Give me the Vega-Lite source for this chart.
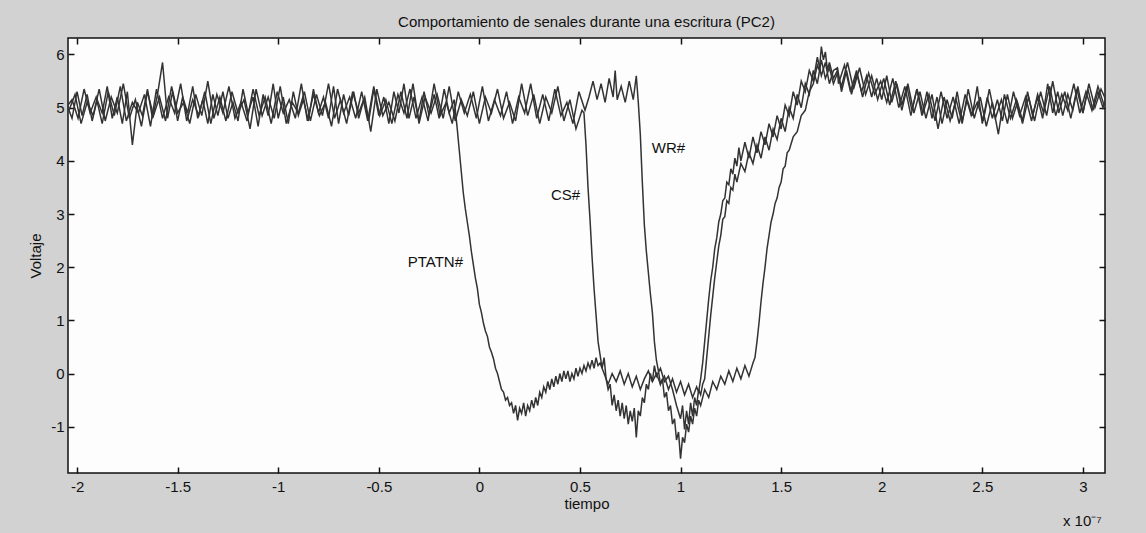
{
"$schema":"https://vega.github.io/schema/vega-lite/v6.json",
"width":1037,"height":435,
"autosize":{"type":"none"},
"padding":{"left":68,"top":38,"right":41,"bottom":60},
"background":"#d2d2d2",
"title":{"text":"Comportamiento de senales durante una escritura (PC2)","font":"Liberation Sans","fontSize":15,"fontWeight":"normal","color":"#111","offset":7,"anchor":"middle"},
"config":{"view":{"fill":"#fdfdfd","stroke":"#111","strokeWidth":1.5},
"axis":{"domain":false,"grid":false,"tickColor":"#111","tickWidth":1.5,"labelFont":"Liberation Sans","labelFontSize":15,"labelColor":"#111","titleFont":"Liberation Sans","titleFontSize":15,"titleFontWeight":"normal","titleColor":"#111"}},
"datasets":{
"lab":[{"t":-0.219,"v":2.09,"label":"PTATN#"},{"t":0.428,"v":3.36,"label":"CS#"},{"t":0.94,"v":4.25,"label":"WR#"},{"t":2.997,"v":-2.77,"label":"x 10⁻⁷"}],
"sig":[
{"s":"P","t":-2.05,"v":5.05},{"s":"P","t":-2.025,"v":4.8},{"s":"P","t":-2.0,"v":5.3},{"s":"P","t":-1.975,"v":4.85},{"s":"P","t":-1.95,"v":5.25},{"s":"P","t":-1.925,"v":4.75},{"s":"P","t":-1.9,"v":5.15},{"s":"P","t":-1.875,"v":4.9},{"s":"P","t":-1.85,"v":5.4},{"s":"P","t":-1.825,"v":4.8},{"s":"P","t":-1.8,"v":5.2},{"s":"P","t":-1.775,"v":4.7},{"s":"P","t":-1.75,"v":5.3},{"s":"P","t":-1.725,"v":4.3},{"s":"P","t":-1.7,"v":5.1},{"s":"P","t":-1.675,"v":4.85},{"s":"P","t":-1.65,"v":5.35},{"s":"P","t":-1.625,"v":4.8},{"s":"P","t":-1.6,"v":5.25},{"s":"P","t":-1.575,"v":5.85},{"s":"P","t":-1.55,"v":4.8},{"s":"P","t":-1.525,"v":5.3},{"s":"P","t":-1.5,"v":4.75},{"s":"P","t":-1.475,"v":5.2},{"s":"P","t":-1.45,"v":4.9},{"s":"P","t":-1.425,"v":5.4},{"s":"P","t":-1.4,"v":4.8},{"s":"P","t":-1.375,"v":5.15},{"s":"P","t":-1.35,"v":4.7},{"s":"P","t":-1.325,"v":5.25},{"s":"P","t":-1.3,"v":4.85},{"s":"P","t":-1.275,"v":5.3},{"s":"P","t":-1.25,"v":4.8},{"s":"P","t":-1.225,"v":5.1},{"s":"P","t":-1.2,"v":4.75},{"s":"P","t":-1.175,"v":5.35},{"s":"P","t":-1.15,"v":4.9},{"s":"P","t":-1.125,"v":5.2},{"s":"P","t":-1.1,"v":4.65},{"s":"P","t":-1.075,"v":5.25},{"s":"P","t":-1.05,"v":4.85},{"s":"P","t":-1.025,"v":5.45},{"s":"P","t":-1.0,"v":4.8},{"s":"P","t":-0.975,"v":5.2},{"s":"P","t":-0.95,"v":4.7},{"s":"P","t":-0.925,"v":5.3},{"s":"P","t":-0.9,"v":4.85},{"s":"P","t":-0.875,"v":5.15},{"s":"P","t":-0.85,"v":4.75},{"s":"P","t":-0.825,"v":5.35},{"s":"P","t":-0.8,"v":4.9},{"s":"P","t":-0.775,"v":5.2},{"s":"P","t":-0.75,"v":4.8},{"s":"P","t":-0.725,"v":5.4},{"s":"P","t":-0.7,"v":4.7},{"s":"P","t":-0.675,"v":5.25},{"s":"P","t":-0.65,"v":4.85},{"s":"P","t":-0.625,"v":5.3},{"s":"P","t":-0.6,"v":4.8},{"s":"P","t":-0.575,"v":5.15},{"s":"P","t":-0.55,"v":4.75},{"s":"P","t":-0.525,"v":5.35},{"s":"P","t":-0.5,"v":4.85},{"s":"P","t":-0.475,"v":5.2},{"s":"P","t":-0.45,"v":4.7},{"s":"P","t":-0.425,"v":5.3},{"s":"P","t":-0.4,"v":4.9},{"s":"P","t":-0.375,"v":5.45},{"s":"P","t":-0.35,"v":4.8},{"s":"P","t":-0.325,"v":5.2},{"s":"P","t":-0.3,"v":4.75},{"s":"P","t":-0.275,"v":5.3},{"s":"P","t":-0.25,"v":4.85},{"s":"P","t":-0.225,"v":5.25},{"s":"P","t":-0.2,"v":4.8},{"s":"P","t":-0.175,"v":5.35},{"s":"P","t":-0.15,"v":4.9},{"s":"P","t":-0.125,"v":5.15},
{"s":"P","t":-0.11,"v":4.6},{"s":"P","t":-0.1,"v":4.2},{"s":"P","t":-0.09,"v":3.8},{"s":"P","t":-0.08,"v":3.4},{"s":"P","t":-0.07,"v":3.1},{"s":"P","t":-0.06,"v":2.85},{"s":"P","t":-0.05,"v":2.6},{"s":"P","t":-0.04,"v":2.3},{"s":"P","t":-0.03,"v":2.05},{"s":"P","t":-0.02,"v":1.8},{"s":"P","t":-0.01,"v":1.6},{"s":"P","t":0.0,"v":1.3},{"s":"P","t":0.01,"v":1.15},{"s":"P","t":0.02,"v":0.95},{"s":"P","t":0.03,"v":0.8},{"s":"P","t":0.04,"v":0.7},{"s":"P","t":0.05,"v":0.5},{"s":"P","t":0.06,"v":0.4},{"s":"P","t":0.07,"v":0.28},{"s":"P","t":0.08,"v":0.1},{"s":"P","t":0.09,"v":0.0},{"s":"P","t":0.1,"v":-0.15},{"s":"P","t":0.11,"v":-0.3},{"s":"P","t":0.12,"v":-0.35},{"s":"P","t":0.13,"v":-0.5},{"s":"P","t":0.14,"v":-0.45},{"s":"P","t":0.15,"v":-0.6},{"s":"P","t":0.16,"v":-0.55},{"s":"P","t":0.17,"v":-0.75},{"s":"P","t":0.18,"v":-0.6},{"s":"P","t":0.19,"v":-0.88},{"s":"P","t":0.2,"v":-0.65},{"s":"P","t":0.21,"v":-0.75},{"s":"P","t":0.22,"v":-0.55},{"s":"P","t":0.23,"v":-0.8},{"s":"P","t":0.24,"v":-0.6},{"s":"P","t":0.25,"v":-0.7},{"s":"P","t":0.26,"v":-0.5},{"s":"P","t":0.27,"v":-0.65},{"s":"P","t":0.28,"v":-0.45},{"s":"P","t":0.29,"v":-0.6},{"s":"P","t":0.3,"v":-0.35},{"s":"P","t":0.31,"v":-0.45},{"s":"P","t":0.32,"v":-0.25},{"s":"P","t":0.33,"v":-0.35},{"s":"P","t":0.34,"v":-0.15},{"s":"P","t":0.35,"v":-0.3},{"s":"P","t":0.36,"v":-0.1},{"s":"P","t":0.37,"v":-0.25},{"s":"P","t":0.38,"v":-0.05},{"s":"P","t":0.39,"v":-0.2},{"s":"P","t":0.4,"v":0.0},{"s":"P","t":0.41,"v":-0.15},{"s":"P","t":0.42,"v":0.05},{"s":"P","t":0.43,"v":-0.1},{"s":"P","t":0.44,"v":0.05},{"s":"P","t":0.45,"v":-0.15},{"s":"P","t":0.46,"v":0.0},{"s":"P","t":0.47,"v":-0.1},{"s":"P","t":0.48,"v":0.1},{"s":"P","t":0.49,"v":-0.05},{"s":"P","t":0.5,"v":0.1},{"s":"P","t":0.51,"v":0.0},{"s":"P","t":0.52,"v":0.15},{"s":"P","t":0.53,"v":0.05},{"s":"P","t":0.54,"v":0.2},{"s":"P","t":0.55,"v":0.1},{"s":"P","t":0.56,"v":0.25},{"s":"P","t":0.57,"v":0.1},{"s":"P","t":0.58,"v":0.3},{"s":"P","t":0.59,"v":0.15},{"s":"P","t":0.6,"v":0.2},{"s":"P","t":0.62,"v":0.0},{"s":"P","t":0.64,"v":-0.2},{"s":"P","t":0.66,"v":0.0},{"s":"P","t":0.68,"v":-0.15},{"s":"P","t":0.7,"v":0.05},{"s":"P","t":0.72,"v":-0.2},{"s":"P","t":0.74,"v":0.0},{"s":"P","t":0.76,"v":-0.25},{"s":"P","t":0.78,"v":-0.05},{"s":"P","t":0.8,"v":-0.3},{"s":"P","t":0.82,"v":-0.1},{"s":"P","t":0.84,"v":0.05},{"s":"P","t":0.86,"v":-0.15},{"s":"P","t":0.88,"v":0.0},{"s":"P","t":0.9,"v":-0.2},{"s":"P","t":0.92,"v":-0.05},{"s":"P","t":0.94,"v":-0.3},{"s":"P","t":0.96,"v":-0.1},{"s":"P","t":0.98,"v":-0.35},{"s":"P","t":1.0,"v":-0.15},{"s":"P","t":1.02,"v":-0.4},{"s":"P","t":1.04,"v":-0.2},{"s":"P","t":1.06,"v":-0.45},{"s":"P","t":1.08,"v":-0.25},{"s":"P","t":1.09,"v":-0.35},{"s":"P","t":1.1,"v":-0.1},
{"s":"P","t":1.11,"v":0.2},{"s":"P","t":1.12,"v":0.6},{"s":"P","t":1.13,"v":1.0},{"s":"P","t":1.14,"v":1.4},{"s":"P","t":1.15,"v":1.75},{"s":"P","t":1.16,"v":2.0},{"s":"P","t":1.17,"v":2.35},{"s":"P","t":1.18,"v":2.55},{"s":"P","t":1.19,"v":2.85},{"s":"P","t":1.2,"v":3.0},{"s":"P","t":1.21,"v":3.25},{"s":"P","t":1.22,"v":3.3},{"s":"P","t":1.23,"v":3.6},{"s":"P","t":1.24,"v":3.55},{"s":"P","t":1.25,"v":3.85},{"s":"P","t":1.26,"v":3.75},{"s":"P","t":1.27,"v":4.05},{"s":"P","t":1.28,"v":3.9},{"s":"P","t":1.29,"v":4.25},{"s":"P","t":1.3,"v":4.0},{"s":"P","t":1.32,"v":4.35},{"s":"P","t":1.34,"v":4.05},{"s":"P","t":1.36,"v":4.45},{"s":"P","t":1.38,"v":4.15},{"s":"P","t":1.4,"v":4.55},{"s":"P","t":1.42,"v":4.3},{"s":"P","t":1.44,"v":4.7},{"s":"P","t":1.46,"v":4.45},{"s":"P","t":1.48,"v":4.85},{"s":"P","t":1.5,"v":4.6},{"s":"P","t":1.52,"v":5.05},{"s":"P","t":1.54,"v":4.85},{"s":"P","t":1.56,"v":5.3},{"s":"P","t":1.58,"v":5.05},{"s":"P","t":1.6,"v":5.5},{"s":"P","t":1.62,"v":5.3},{"s":"P","t":1.64,"v":5.7},{"s":"P","t":1.66,"v":5.5},{"s":"P","t":1.68,"v":5.95},{"s":"P","t":1.7,"v":5.6},{"s":"P","t":1.72,"v":5.85},{"s":"P","t":1.74,"v":5.45},{"s":"P","t":1.76,"v":5.7},
{"s":"P","t":1.78,"v":5.75},{"s":"P","t":1.8,"v":5.3},{"s":"P","t":1.825,"v":5.7},{"s":"P","t":1.85,"v":5.25},{"s":"P","t":1.875,"v":5.65},{"s":"P","t":1.9,"v":5.3},{"s":"P","t":1.925,"v":5.6},{"s":"P","t":1.95,"v":5.2},{"s":"P","t":1.975,"v":5.55},{"s":"P","t":2.0,"v":5.15},{"s":"P","t":2.025,"v":5.6},{"s":"P","t":2.05,"v":5.1},{"s":"P","t":2.075,"v":5.45},{"s":"P","t":2.1,"v":5.05},{"s":"P","t":2.125,"v":5.4},{"s":"P","t":2.15,"v":4.95},{"s":"P","t":2.175,"v":5.35},{"s":"P","t":2.2,"v":4.85},{"s":"P","t":2.225,"v":5.3},{"s":"P","t":2.25,"v":4.8},{"s":"P","t":2.275,"v":5.2},{"s":"P","t":2.3,"v":4.7},{"s":"P","t":2.325,"v":5.15},{"s":"P","t":2.35,"v":4.8},{"s":"P","t":2.375,"v":5.3},{"s":"P","t":2.4,"v":4.75},{"s":"P","t":2.425,"v":5.15},{"s":"P","t":2.45,"v":4.85},{"s":"P","t":2.475,"v":5.4},{"s":"P","t":2.5,"v":4.7},{"s":"P","t":2.525,"v":5.2},{"s":"P","t":2.55,"v":4.8},{"s":"P","t":2.575,"v":5.15},{"s":"P","t":2.6,"v":4.75},{"s":"P","t":2.625,"v":5.25},{"s":"P","t":2.65,"v":4.8},{"s":"P","t":2.675,"v":5.1},{"s":"P","t":2.7,"v":4.75},{"s":"P","t":2.725,"v":5.3},{"s":"P","t":2.75,"v":4.85},{"s":"P","t":2.775,"v":5.2},{"s":"P","t":2.8,"v":4.8},{"s":"P","t":2.825,"v":5.45},{"s":"P","t":2.85,"v":4.9},{"s":"P","t":2.875,"v":5.3},{"s":"P","t":2.9,"v":4.85},{"s":"P","t":2.925,"v":5.25},{"s":"P","t":2.95,"v":4.95},{"s":"P","t":2.975,"v":5.4},{"s":"P","t":3.0,"v":4.9},{"s":"P","t":3.025,"v":5.35},{"s":"P","t":3.05,"v":4.95},{"s":"P","t":3.075,"v":5.3},{"s":"P","t":3.1,"v":5.0},{"s":"P","t":3.125,"v":5.3},
{"s":"C","t":-2.04,"v":4.95},{"s":"C","t":-2.01,"v":5.25},{"s":"C","t":-1.98,"v":4.7},{"s":"C","t":-1.95,"v":5.1},{"s":"C","t":-1.92,"v":4.85},{"s":"C","t":-1.89,"v":5.35},{"s":"C","t":-1.86,"v":4.75},{"s":"C","t":-1.83,"v":5.2},{"s":"C","t":-1.8,"v":4.9},{"s":"C","t":-1.77,"v":5.45},{"s":"C","t":-1.74,"v":4.8},{"s":"C","t":-1.71,"v":5.15},{"s":"C","t":-1.68,"v":4.65},{"s":"C","t":-1.65,"v":5.3},{"s":"C","t":-1.62,"v":4.85},{"s":"C","t":-1.59,"v":5.2},{"s":"C","t":-1.56,"v":4.75},{"s":"C","t":-1.53,"v":5.4},{"s":"C","t":-1.5,"v":4.9},{"s":"C","t":-1.47,"v":5.1},{"s":"C","t":-1.44,"v":4.7},{"s":"C","t":-1.41,"v":5.25},{"s":"C","t":-1.38,"v":4.85},{"s":"C","t":-1.35,"v":5.5},{"s":"C","t":-1.32,"v":4.8},{"s":"C","t":-1.29,"v":5.2},{"s":"C","t":-1.26,"v":4.75},{"s":"C","t":-1.23,"v":5.3},{"s":"C","t":-1.2,"v":4.9},{"s":"C","t":-1.17,"v":5.15},{"s":"C","t":-1.14,"v":4.6},{"s":"C","t":-1.11,"v":5.35},{"s":"C","t":-1.08,"v":4.85},{"s":"C","t":-1.05,"v":5.2},{"s":"C","t":-1.02,"v":4.8},{"s":"C","t":-0.99,"v":5.4},{"s":"C","t":-0.96,"v":4.7},{"s":"C","t":-0.93,"v":5.1},{"s":"C","t":-0.9,"v":4.9},{"s":"C","t":-0.87,"v":5.3},{"s":"C","t":-0.84,"v":4.75},{"s":"C","t":-0.81,"v":5.25},{"s":"C","t":-0.78,"v":4.85},{"s":"C","t":-0.75,"v":5.45},{"s":"C","t":-0.72,"v":4.8},{"s":"C","t":-0.69,"v":5.15},{"s":"C","t":-0.66,"v":4.7},{"s":"C","t":-0.63,"v":5.3},{"s":"C","t":-0.6,"v":4.9},{"s":"C","t":-0.57,"v":5.2},{"s":"C","t":-0.54,"v":4.55},{"s":"C","t":-0.51,"v":5.35},{"s":"C","t":-0.48,"v":4.85},{"s":"C","t":-0.45,"v":5.1},{"s":"C","t":-0.42,"v":4.75},{"s":"C","t":-0.39,"v":5.3},{"s":"C","t":-0.36,"v":4.8},{"s":"C","t":-0.33,"v":5.45},{"s":"C","t":-0.3,"v":4.7},{"s":"C","t":-0.27,"v":5.2},{"s":"C","t":-0.24,"v":4.9},{"s":"C","t":-0.21,"v":5.25},{"s":"C","t":-0.18,"v":4.8},{"s":"C","t":-0.15,"v":5.4},{"s":"C","t":-0.12,"v":4.75},{"s":"C","t":-0.09,"v":5.15},{"s":"C","t":-0.06,"v":4.85},{"s":"C","t":-0.03,"v":5.3},{"s":"C","t":0.0,"v":4.7},{"s":"C","t":0.03,"v":5.2},{"s":"C","t":0.06,"v":4.9},{"s":"C","t":0.09,"v":5.35},{"s":"C","t":0.12,"v":4.8},{"s":"C","t":0.15,"v":5.1},{"s":"C","t":0.18,"v":4.75},{"s":"C","t":0.21,"v":5.45},{"s":"C","t":0.24,"v":4.85},{"s":"C","t":0.27,"v":5.25},{"s":"C","t":0.3,"v":4.7},{"s":"C","t":0.33,"v":5.2},{"s":"C","t":0.36,"v":4.9},{"s":"C","t":0.39,"v":5.4},{"s":"C","t":0.42,"v":4.75},{"s":"C","t":0.45,"v":5.15},{"s":"C","t":0.48,"v":4.6},{"s":"C","t":0.51,"v":4.95},
{"s":"C","t":0.52,"v":4.9},{"s":"C","t":0.53,"v":4.3},{"s":"C","t":0.54,"v":3.5},{"s":"C","t":0.55,"v":2.9},{"s":"C","t":0.56,"v":2.2},{"s":"C","t":0.57,"v":1.6},{"s":"C","t":0.58,"v":1.1},{"s":"C","t":0.59,"v":0.6},{"s":"C","t":0.6,"v":0.35},{"s":"C","t":0.61,"v":0.1},{"s":"C","t":0.62,"v":0.3},{"s":"C","t":0.63,"v":-0.1},{"s":"C","t":0.64,"v":-0.3},{"s":"C","t":0.65,"v":-0.2},{"s":"C","t":0.66,"v":-0.6},{"s":"C","t":0.67,"v":-0.4},{"s":"C","t":0.68,"v":-0.7},{"s":"C","t":0.69,"v":-0.5},{"s":"C","t":0.7,"v":-0.8},{"s":"C","t":0.71,"v":-0.55},{"s":"C","t":0.72,"v":-0.85},{"s":"C","t":0.73,"v":-0.6},{"s":"C","t":0.74,"v":-0.95},{"s":"C","t":0.75,"v":-0.7},{"s":"C","t":0.76,"v":-0.9},{"s":"C","t":0.77,"v":-0.65},{"s":"C","t":0.78,"v":-1.2},{"s":"C","t":0.79,"v":-0.7},{"s":"C","t":0.8,"v":-0.8},{"s":"C","t":0.81,"v":-0.45},{"s":"C","t":0.82,"v":-0.55},{"s":"C","t":0.83,"v":-0.2},{"s":"C","t":0.84,"v":-0.3},{"s":"C","t":0.85,"v":0.0},{"s":"C","t":0.86,"v":-0.15},{"s":"C","t":0.87,"v":0.15},{"s":"C","t":0.88,"v":-0.05},{"s":"C","t":0.9,"v":0.1},{"s":"C","t":0.92,"v":-0.15},{"s":"C","t":0.94,"v":-0.05},{"s":"C","t":0.96,"v":-0.3},{"s":"C","t":0.98,"v":-0.6},{"s":"C","t":1.0,"v":-0.85},{"s":"C","t":1.01,"v":-0.6},{"s":"C","t":1.02,"v":-1.05},{"s":"C","t":1.03,"v":-0.7},{"s":"C","t":1.04,"v":-0.95},{"s":"C","t":1.05,"v":-0.55},{"s":"C","t":1.06,"v":-0.8},{"s":"C","t":1.07,"v":-0.45},{"s":"C","t":1.08,"v":-0.6},{"s":"C","t":1.09,"v":-0.3},{"s":"C","t":1.1,"v":-0.4},{"s":"C","t":1.11,"v":-0.2},{"s":"C","t":1.12,"v":-0.1},{"s":"C","t":1.13,"v":0.3},{"s":"C","t":1.14,"v":0.7},{"s":"C","t":1.15,"v":1.1},{"s":"C","t":1.16,"v":1.45},{"s":"C","t":1.17,"v":1.8},{"s":"C","t":1.18,"v":2.1},{"s":"C","t":1.19,"v":2.4},{"s":"C","t":1.2,"v":2.6},{"s":"C","t":1.21,"v":2.9},{"s":"C","t":1.22,"v":2.95},{"s":"C","t":1.23,"v":3.25},{"s":"C","t":1.24,"v":3.2},{"s":"C","t":1.25,"v":3.5},{"s":"C","t":1.26,"v":3.45},{"s":"C","t":1.27,"v":3.75},{"s":"C","t":1.28,"v":3.6},{"s":"C","t":1.3,"v":3.95},{"s":"C","t":1.32,"v":3.8},{"s":"C","t":1.34,"v":4.15},{"s":"C","t":1.36,"v":3.95},{"s":"C","t":1.38,"v":4.3},{"s":"C","t":1.4,"v":4.05},{"s":"C","t":1.42,"v":4.45},{"s":"C","t":1.44,"v":4.2},{"s":"C","t":1.46,"v":4.6},{"s":"C","t":1.48,"v":4.4},{"s":"C","t":1.5,"v":4.8},{"s":"C","t":1.52,"v":4.55},{"s":"C","t":1.54,"v":5.0},{"s":"C","t":1.56,"v":4.8},{"s":"C","t":1.58,"v":5.25},{"s":"C","t":1.6,"v":5.0},{"s":"C","t":1.62,"v":5.45},{"s":"C","t":1.64,"v":5.25},{"s":"C","t":1.66,"v":5.7},{"s":"C","t":1.68,"v":5.45},{"s":"C","t":1.7,"v":5.9},{"s":"C","t":1.72,"v":5.55},{"s":"C","t":1.74,"v":5.75},{"s":"C","t":1.76,"v":5.45},{"s":"C","t":1.78,"v":5.65},
{"s":"C","t":1.8,"v":5.4},{"s":"C","t":1.83,"v":5.85},{"s":"C","t":1.86,"v":5.35},{"s":"C","t":1.89,"v":5.75},{"s":"C","t":1.92,"v":5.25},{"s":"C","t":1.95,"v":5.6},{"s":"C","t":1.98,"v":5.15},{"s":"C","t":2.01,"v":5.55},{"s":"C","t":2.04,"v":5.05},{"s":"C","t":2.07,"v":5.5},{"s":"C","t":2.1,"v":4.95},{"s":"C","t":2.13,"v":5.45},{"s":"C","t":2.16,"v":4.9},{"s":"C","t":2.19,"v":5.3},{"s":"C","t":2.22,"v":4.8},{"s":"C","t":2.25,"v":5.25},{"s":"C","t":2.28,"v":4.6},{"s":"C","t":2.31,"v":5.2},{"s":"C","t":2.34,"v":4.75},{"s":"C","t":2.37,"v":5.15},{"s":"C","t":2.4,"v":4.7},{"s":"C","t":2.43,"v":5.35},{"s":"C","t":2.46,"v":4.8},{"s":"C","t":2.49,"v":5.2},{"s":"C","t":2.52,"v":4.65},{"s":"C","t":2.55,"v":5.1},{"s":"C","t":2.58,"v":4.5},{"s":"C","t":2.61,"v":5.25},{"s":"C","t":2.64,"v":4.8},{"s":"C","t":2.67,"v":5.15},{"s":"C","t":2.7,"v":4.7},{"s":"C","t":2.73,"v":5.2},{"s":"C","t":2.76,"v":4.75},{"s":"C","t":2.79,"v":5.3},{"s":"C","t":2.82,"v":4.85},{"s":"C","t":2.85,"v":5.5},{"s":"C","t":2.88,"v":4.9},{"s":"C","t":2.91,"v":5.3},{"s":"C","t":2.94,"v":4.8},{"s":"C","t":2.97,"v":5.35},{"s":"C","t":3.0,"v":4.9},{"s":"C","t":3.03,"v":5.45},{"s":"C","t":3.06,"v":5.0},{"s":"C","t":3.09,"v":5.35},{"s":"C","t":3.12,"v":5.1},
{"s":"W","t":-2.055,"v":5.0},{"s":"W","t":-2.025,"v":5.15},{"s":"W","t":-1.995,"v":4.8},{"s":"W","t":-1.965,"v":5.35},{"s":"W","t":-1.935,"v":4.9},{"s":"W","t":-1.905,"v":5.2},{"s":"W","t":-1.875,"v":4.7},{"s":"W","t":-1.845,"v":5.3},{"s":"W","t":-1.815,"v":4.85},{"s":"W","t":-1.785,"v":5.4},{"s":"W","t":-1.755,"v":4.75},{"s":"W","t":-1.725,"v":5.1},{"s":"W","t":-1.695,"v":4.9},{"s":"W","t":-1.665,"v":5.25},{"s":"W","t":-1.635,"v":4.65},{"s":"W","t":-1.605,"v":5.35},{"s":"W","t":-1.575,"v":4.8},{"s":"W","t":-1.545,"v":5.2},{"s":"W","t":-1.515,"v":4.9},{"s":"W","t":-1.485,"v":5.45},{"s":"W","t":-1.455,"v":4.75},{"s":"W","t":-1.425,"v":5.15},{"s":"W","t":-1.395,"v":4.85},{"s":"W","t":-1.365,"v":5.3},{"s":"W","t":-1.335,"v":4.7},{"s":"W","t":-1.305,"v":5.25},{"s":"W","t":-1.275,"v":4.9},{"s":"W","t":-1.245,"v":5.4},{"s":"W","t":-1.215,"v":4.8},{"s":"W","t":-1.185,"v":5.1},{"s":"W","t":-1.155,"v":4.75},{"s":"W","t":-1.125,"v":5.35},{"s":"W","t":-1.095,"v":4.85},{"s":"W","t":-1.065,"v":5.2},{"s":"W","t":-1.035,"v":4.7},{"s":"W","t":-1.005,"v":5.3},{"s":"W","t":-0.975,"v":4.9},{"s":"W","t":-0.945,"v":5.15},{"s":"W","t":-0.915,"v":4.8},{"s":"W","t":-0.885,"v":5.45},{"s":"W","t":-0.855,"v":4.75},{"s":"W","t":-0.825,"v":5.25},{"s":"W","t":-0.795,"v":4.85},{"s":"W","t":-0.765,"v":5.1},{"s":"W","t":-0.735,"v":4.65},{"s":"W","t":-0.705,"v":5.35},{"s":"W","t":-0.675,"v":4.9},{"s":"W","t":-0.645,"v":5.2},{"s":"W","t":-0.615,"v":4.8},{"s":"W","t":-0.585,"v":5.3},{"s":"W","t":-0.555,"v":4.75},{"s":"W","t":-0.525,"v":5.4},{"s":"W","t":-0.495,"v":4.85},{"s":"W","t":-0.465,"v":5.15},{"s":"W","t":-0.435,"v":4.7},{"s":"W","t":-0.405,"v":5.25},{"s":"W","t":-0.375,"v":4.9},{"s":"W","t":-0.345,"v":5.35},{"s":"W","t":-0.315,"v":4.8},{"s":"W","t":-0.285,"v":5.2},{"s":"W","t":-0.255,"v":4.75},{"s":"W","t":-0.225,"v":5.45},{"s":"W","t":-0.195,"v":4.85},{"s":"W","t":-0.165,"v":5.1},{"s":"W","t":-0.135,"v":4.7},{"s":"W","t":-0.105,"v":5.3},{"s":"W","t":-0.075,"v":4.9},{"s":"W","t":-0.045,"v":5.25},{"s":"W","t":-0.015,"v":4.8},{"s":"W","t":0.015,"v":5.4},{"s":"W","t":0.045,"v":4.75},{"s":"W","t":0.075,"v":5.15},{"s":"W","t":0.105,"v":4.85},{"s":"W","t":0.135,"v":5.3},{"s":"W","t":0.165,"v":4.7},{"s":"W","t":0.195,"v":5.2},{"s":"W","t":0.225,"v":4.9},{"s":"W","t":0.255,"v":5.45},{"s":"W","t":0.285,"v":4.8},{"s":"W","t":0.315,"v":5.25},{"s":"W","t":0.345,"v":4.75},{"s":"W","t":0.375,"v":5.35},{"s":"W","t":0.405,"v":4.85},{"s":"W","t":0.435,"v":5.1},{"s":"W","t":0.465,"v":4.7},{"s":"W","t":0.495,"v":5.3},{"s":"W","t":0.525,"v":4.95},
{"s":"W","t":0.545,"v":5.2},{"s":"W","t":0.565,"v":5.5},{"s":"W","t":0.585,"v":5.15},{"s":"W","t":0.605,"v":5.45},{"s":"W","t":0.625,"v":5.1},{"s":"W","t":0.645,"v":5.55},{"s":"W","t":0.665,"v":5.2},{"s":"W","t":0.675,"v":5.7},{"s":"W","t":0.685,"v":5.15},{"s":"W","t":0.705,"v":5.4},{"s":"W","t":0.725,"v":5.1},{"s":"W","t":0.745,"v":5.5},{"s":"W","t":0.765,"v":5.15},{"s":"W","t":0.78,"v":5.6},
{"s":"W","t":0.79,"v":5.1},{"s":"W","t":0.8,"v":4.5},{"s":"W","t":0.81,"v":3.6},{"s":"W","t":0.82,"v":2.8},{"s":"W","t":0.83,"v":2.3},{"s":"W","t":0.84,"v":1.9},{"s":"W","t":0.85,"v":1.5},{"s":"W","t":0.86,"v":1.15},{"s":"W","t":0.87,"v":0.6},{"s":"W","t":0.88,"v":0.25},{"s":"W","t":0.89,"v":0.05},{"s":"W","t":0.9,"v":-0.2},{"s":"W","t":0.91,"v":-0.1},{"s":"W","t":0.92,"v":-0.45},{"s":"W","t":0.93,"v":-0.35},{"s":"W","t":0.94,"v":-0.7},{"s":"W","t":0.95,"v":-0.6},{"s":"W","t":0.96,"v":-0.95},{"s":"W","t":0.97,"v":-0.85},{"s":"W","t":0.98,"v":-1.25},{"s":"W","t":0.99,"v":-1.1},{"s":"W","t":1.0,"v":-1.6},{"s":"W","t":1.01,"v":-1.2},{"s":"W","t":1.02,"v":-1.3},{"s":"W","t":1.03,"v":-0.95},{"s":"W","t":1.04,"v":-1.1},{"s":"W","t":1.05,"v":-0.8},{"s":"W","t":1.06,"v":-0.95},{"s":"W","t":1.07,"v":-0.65},{"s":"W","t":1.08,"v":-0.8},{"s":"W","t":1.09,"v":-0.5},{"s":"W","t":1.1,"v":-0.6},{"s":"W","t":1.12,"v":-0.3},{"s":"W","t":1.14,"v":-0.45},{"s":"W","t":1.16,"v":-0.15},{"s":"W","t":1.18,"v":-0.3},{"s":"W","t":1.2,"v":-0.05},{"s":"W","t":1.22,"v":-0.2},{"s":"W","t":1.24,"v":0.05},{"s":"W","t":1.26,"v":-0.15},{"s":"W","t":1.28,"v":0.1},{"s":"W","t":1.3,"v":-0.1},{"s":"W","t":1.32,"v":0.15},{"s":"W","t":1.34,"v":-0.05},{"s":"W","t":1.36,"v":0.2},{"s":"W","t":1.37,"v":0.3},{"s":"W","t":1.38,"v":0.6},{"s":"W","t":1.39,"v":0.95},{"s":"W","t":1.4,"v":1.35},{"s":"W","t":1.41,"v":1.7},{"s":"W","t":1.42,"v":2.0},{"s":"W","t":1.43,"v":2.35},{"s":"W","t":1.44,"v":2.6},{"s":"W","t":1.45,"v":2.85},{"s":"W","t":1.46,"v":3.0},{"s":"W","t":1.47,"v":3.2},{"s":"W","t":1.48,"v":3.3},{"s":"W","t":1.49,"v":3.5},{"s":"W","t":1.5,"v":3.6},{"s":"W","t":1.51,"v":3.85},{"s":"W","t":1.52,"v":3.9},{"s":"W","t":1.53,"v":4.15},{"s":"W","t":1.54,"v":4.2},{"s":"W","t":1.56,"v":4.45},{"s":"W","t":1.58,"v":4.55},{"s":"W","t":1.6,"v":4.85},{"s":"W","t":1.62,"v":4.95},{"s":"W","t":1.64,"v":5.3},{"s":"W","t":1.66,"v":5.45},{"s":"W","t":1.68,"v":5.8},{"s":"W","t":1.69,"v":5.7},{"s":"W","t":1.7,"v":6.15},{"s":"W","t":1.71,"v":5.9},{"s":"W","t":1.72,"v":6.05},{"s":"W","t":1.73,"v":5.7},{"s":"W","t":1.74,"v":5.85},{"s":"W","t":1.76,"v":5.55},{"s":"W","t":1.78,"v":5.7},
{"s":"W","t":1.785,"v":5.45},{"s":"W","t":1.815,"v":5.8},{"s":"W","t":1.845,"v":5.3},{"s":"W","t":1.875,"v":5.7},{"s":"W","t":1.905,"v":5.2},{"s":"W","t":1.935,"v":5.65},{"s":"W","t":1.965,"v":5.25},{"s":"W","t":1.995,"v":5.5},{"s":"W","t":2.025,"v":5.1},{"s":"W","t":2.055,"v":5.55},{"s":"W","t":2.085,"v":5.0},{"s":"W","t":2.115,"v":5.4},{"s":"W","t":2.145,"v":4.85},{"s":"W","t":2.175,"v":5.35},{"s":"W","t":2.205,"v":4.9},{"s":"W","t":2.235,"v":5.25},{"s":"W","t":2.265,"v":4.75},{"s":"W","t":2.295,"v":5.3},{"s":"W","t":2.325,"v":4.8},{"s":"W","t":2.355,"v":5.2},{"s":"W","t":2.385,"v":4.7},{"s":"W","t":2.415,"v":5.25},{"s":"W","t":2.445,"v":4.85},{"s":"W","t":2.475,"v":5.1},{"s":"W","t":2.505,"v":4.75},{"s":"W","t":2.535,"v":5.35},{"s":"W","t":2.565,"v":4.8},{"s":"W","t":2.595,"v":5.15},{"s":"W","t":2.625,"v":4.7},{"s":"W","t":2.655,"v":5.3},{"s":"W","t":2.685,"v":4.85},{"s":"W","t":2.715,"v":5.2},{"s":"W","t":2.745,"v":4.75},{"s":"W","t":2.775,"v":5.25},{"s":"W","t":2.805,"v":4.9},{"s":"W","t":2.835,"v":5.4},{"s":"W","t":2.865,"v":4.85},{"s":"W","t":2.895,"v":5.25},{"s":"W","t":2.925,"v":4.95},{"s":"W","t":2.955,"v":5.45},{"s":"W","t":2.985,"v":4.9},{"s":"W","t":3.015,"v":5.3},{"s":"W","t":3.045,"v":4.95},{"s":"W","t":3.075,"v":5.4},{"s":"W","t":3.105,"v":5.05},{"s":"W","t":3.135,"v":5.2}
]},
"layer":[
{"mark":{"type":"rule","stroke":"#e2e2e2","strokeWidth":1.5,"strokeDash":[30,14]},"encoding":{"y":{"datum":3.71,"type":"quantitative","scale":{"domain":[-1.87,6.31],"nice":false,"zero":false},"axis":null}}},
{"data":{"name":"sig"},"mark":{"type":"line","stroke":"#333333","strokeWidth":1.5,"clip":true},
"encoding":{
"x":{"field":"t","type":"quantitative","scale":{"domain":[-2.045,3.11],"nice":false,"zero":false},
"axis":{"orient":"bottom","title":"tiempo","values":[-2,-1.5,-1,-0.5,0,0.5,1,1.5,2,2.5,3],"labelExpr":"'' + datum.value","tickSize":-6,"labelPadding":12,"titlePadding":2,"labelFlush":false,"labelOverlap":false}},
"y":{"field":"v","type":"quantitative","scale":{"domain":[-1.87,6.31],"nice":false,"zero":false},
"axis":{"orient":"left","title":"Voltaje","values":[-1,0,1,2,3,4,5,6],"labelExpr":"'' + datum.value","tickSize":-6,"labelPadding":10,"titlePadding":7,"labelFlush":false,"labelOverlap":false}},
"detail":{"field":"s"}}},
{"data":{"name":"lab"},"mark":{"type":"text","font":"Liberation Sans","fontSize":15,"color":"#111","align":"center","baseline":"middle","clip":false},
"encoding":{
"x":{"field":"t","type":"quantitative","axis":{"orient":"top","title":null,"labels":false,"values":[-2,-1.5,-1,-0.5,0,0.5,1,1.5,2,2.5,3],"tickSize":-6}},
"y":{"field":"v","type":"quantitative","axis":{"orient":"right","title":null,"labels":false,"values":[-1,0,1,2,3,4,5,6],"tickSize":-6}},
"text":{"field":"label"}}}
],
"resolve":{"axis":{"x":"independent","y":"independent"}}
}
